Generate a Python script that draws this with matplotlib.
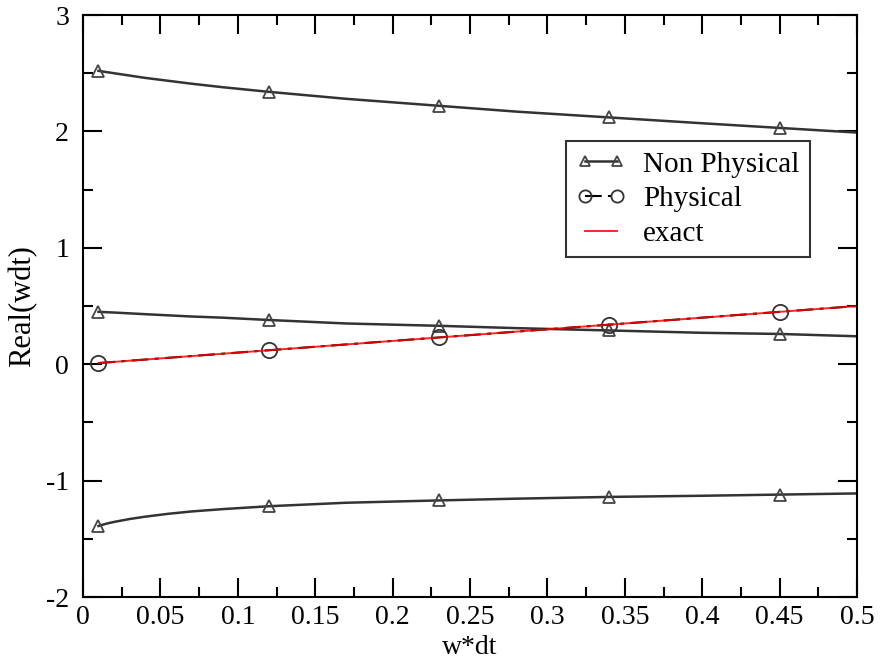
import matplotlib
matplotlib.use('Agg')
import matplotlib.pyplot as plt
from matplotlib.ticker import MultipleLocator

plt.rcParams['font.family'] = ['Liberation Serif', 'DejaVu Serif']
plt.rcParams['axes.unicode_minus'] = False

# curve samples
wdt = [0.01, 0.015, 0.02, 0.03, 0.04, 0.055, 0.07, 0.09, 0.12, 0.17, 0.23, 0.28, 0.34, 0.40, 0.45, 0.50]
upper = [2.52, 2.51, 2.50, 2.48, 2.46, 2.435, 2.41, 2.38, 2.34, 2.28, 2.22, 2.17, 2.12, 2.07, 2.03, 1.99]
middle = [0.45, 0.447, 0.444, 0.437, 0.43, 0.42, 0.41, 0.40, 0.38, 0.35, 0.33, 0.31, 0.29, 0.27, 0.26, 0.24]
lower = [-1.39, -1.37, -1.355, -1.33, -1.31, -1.285, -1.265, -1.245, -1.22, -1.19, -1.17, -1.155, -1.14, -1.13, -1.12, -1.11]
physical = [0.01, 0.015, 0.02, 0.03, 0.04, 0.055, 0.07, 0.09, 0.12, 0.17, 0.23, 0.28, 0.34, 0.40, 0.45, 0.50]
exact_x = [0.01, 0.50]
exact_y = [0.01, 0.50]

marker_x = [0.01, 0.12, 0.23, 0.34, 0.45]
mk = [wdt.index(v) for v in marker_x]

xticks = [0, 0.05, 0.1, 0.15, 0.2, 0.25, 0.3, 0.35, 0.4, 0.45, 0.5]
xticklabels = ['0', '0.05', '0.1', '0.15', '0.2', '0.25', '0.3', '0.35', '0.4', '0.45', '0.5']

fig = plt.figure(figsize=(8.84, 6.67), dpi=100)
ax = fig.add_axes([0.0939, 0.1049, 0.8756, 0.8726])

tri = dict(marker='^', markersize=9, markerfacecolor='none', markeredgecolor='#444444',
           markeredgewidth=1.3, markevery=mk)
ax.plot(wdt, upper, color='#333333', lw=1.8, label='Non Physical', **tri)
ax.plot(wdt, middle, color='#333333', lw=1.8, **tri)
ax.plot(wdt, lower, color='#333333', lw=1.8, **tri)

ax.plot(wdt, physical, color='black', lw=1.5, ls=(0, (8, 3, 2, 3)), marker='o', markersize=11,
        markerfacecolor='none', markeredgecolor='#333333', markeredgewidth=1.3, markevery=mk,
        label='Physical')
ax.plot(exact_x, exact_y, color='red', lw=1.4, alpha=0.85, label='exact')

ax.set_xlim(0, 0.5)
ax.set_ylim(-2, 3)
ax.set_xticks(xticks)
ax.set_xticklabels(xticklabels)
ax.xaxis.set_minor_locator(MultipleLocator(0.025))
ax.yaxis.set_major_locator(MultipleLocator(1))
ax.yaxis.set_minor_locator(MultipleLocator(0.5))
ax.tick_params(which='both', direction='in', top=True, right=True, width=1.5, labelsize=20)
ax.tick_params(which='major', length=14)
ax.tick_params(which='minor', length=7.5)
ax.tick_params(axis='x', pad=6)
ax.tick_params(axis='y', pad=10)
for s in ax.spines.values():
    s.set_linewidth(1.5)

ax.set_xlabel('w*dt', fontsize=20, labelpad=3)
ax.set_ylabel('Real(wdt)', fontsize=22, labelpad=6)

leg = ax.legend(loc='upper left', bbox_to_anchor=(0.624, 0.7835), fontsize=21, numpoints=2,
                markerscale=0.8, frameon=True, fancybox=False, edgecolor='black',
                handlelength=1.7, handletextpad=0.6, borderpad=0.35, labelspacing=0.28,
                borderaxespad=0)
leg.get_frame().set_linewidth(1.5)

fig.savefig('out.png', dpi=100)
